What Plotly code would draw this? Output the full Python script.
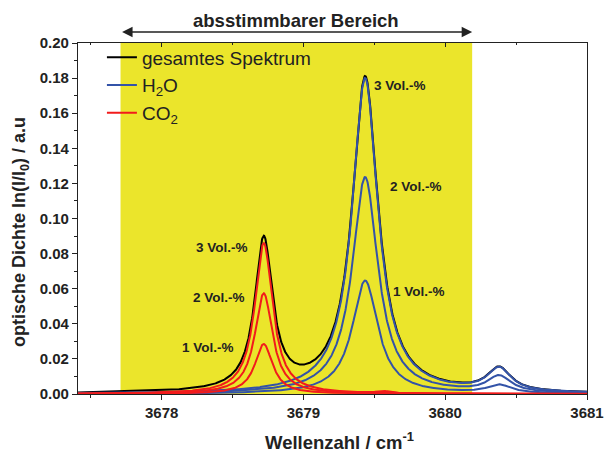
import numpy as np
import plotly.graph_objects as go

# ---- data ----
concentrations = ["1 Vol.-%", "2 Vol.-%", "3 Vol.-%"]
# H2O lines: centre (cm-1), half width (cm-1), peak height for 1/2/3 Vol.-%
h2o_centers = [3679.435, 3680.38]
h2o_hwhm = [0.11, 0.10]
h2o_heights = [[0.0646, 0.1235, 0.180],
               [0.0047, 0.0092, 0.0132]]
# CO2 lines
co2_centers = [3678.72, 3679.56]
co2_hwhm = [0.076, 0.05]
co2_heights = [[0.0285, 0.0574, 0.086],
               [0.0004, 0.0008, 0.0012]]

x_range = [3677.41, 3681.0]
tunable_range = [3677.71, 3680.19]

wn = np.linspace(x_range[0], x_range[1], 1600)


def spectrum(centers, widths, heights, k):
    s = np.zeros_like(wn)
    for c, w, h in zip(centers, widths, heights):
        s += h[k] * w**2 / ((wn - c) ** 2 + w**2)
    return s


h2o = [spectrum(h2o_centers, h2o_hwhm, h2o_heights, k) for k in range(3)]
co2 = [spectrum(co2_centers, co2_hwhm, co2_heights, k) for k in range(3)]
total = h2o[2] + co2[2]

BLUE = "#3353A8"
RED = "#F21B1B"
TXT = "#222222"
FONT = "Liberation Sans, Arial, sans-serif"

fig = go.Figure()
fig.add_trace(go.Scatter(x=wn, y=total, mode="lines", name="gesamtes Spektrum",
                         line=dict(color="black", width=2), legendgroup="a"))
for k in range(3):
    fig.add_trace(go.Scatter(x=wn, y=h2o[k], mode="lines", name="H<sub>2</sub>O",
                             line=dict(color=BLUE, width=2), legendgroup="b",
                             showlegend=(k == 0)))
for k in range(3):
    fig.add_trace(go.Scatter(x=wn, y=co2[k], mode="lines", name="CO<sub>2</sub>",
                             line=dict(color=RED, width=2), legendgroup="c",
                             showlegend=(k == 0)))
# dummy trace for the mirrored top axis
fig.add_trace(go.Scatter(x=[], y=[], xaxis="x2", showlegend=False))

fig.add_shape(type="rect", xref="x", yref="y", x0=tunable_range[0], x1=tunable_range[1],
              y0=0, y1=0.2, fillcolor="#EBE52B", line=dict(width=0), layer="below")

PL, PR, PT, PB = 78, 587, 43, 394


def px2x(px):
    return x_range[0] + (px - PL) / (PR - PL) * (x_range[1] - x_range[0])


def px2y(py):
    return (PB - py) / (PB - PT) * 0.2


label_pos = [(208, 347), (219, 297), (222, 247), (419, 291), (416, 186), (400, 85)]
label_txt = concentrations + concentrations
for (px, py), t in zip(label_pos, label_txt):
    fig.add_annotation(x=px2x(px), y=px2y(py), text="<b>%s</b>" % t, showarrow=False,
                       xanchor="center", yanchor="middle",
                       font=dict(size=13.5, color=TXT, family=FONT))

# double arrow for tunable range
arrow_y = (PB - 32) / (PB - PT)
span_px = (tunable_range[1] - tunable_range[0]) / (x_range[1] - x_range[0]) * (PR - PL)
fig.add_annotation(x=tunable_range[1], y=arrow_y, xref="x", yref="paper", ax=-span_px, ay=0,
                   text="", showarrow=True, arrowside="end+start", arrowhead=2,
                   startarrowhead=2, arrowsize=1.5, startarrowsize=1.5, arrowwidth=1.4,
                   arrowcolor=TXT)
fig.add_annotation(x=(tunable_range[0] + tunable_range[1]) / 2, y=(PB - 20) / (PB - PT),
                   xref="x", yref="paper", xanchor="center", yanchor="middle",
                   text="<b>absstimmbarer Bereich</b>", showarrow=False,
                   font=dict(size=18.5, color=TXT, family=FONT))

# axis titles as free text
fig.add_annotation(x=(20 - PL) / (PR - PL), y=(PB - 232) / (PB - PT), xref="paper", yref="paper",
                   xanchor="center", yanchor="middle",
                   text="<b>optische Dichte ln(I/I<sub>0</sub>) / a.u</b>", textangle=-90,
                   showarrow=False, font=dict(size=18, color=TXT, family=FONT))
fig.add_annotation(x=(339 - PL) / (PR - PL), y=(PB - 441) / (PB - PT), xref="paper", yref="paper",
                   xanchor="center", yanchor="middle",
                   text="<b>Wellenzahl / cm<sup>-1</sup></b>",
                   showarrow=False, font=dict(size=18.5, color=TXT, family=FONT))

axis_common = dict(showline=True, linecolor=TXT, linewidth=1.3, showgrid=False,
                   zeroline=False, ticks="outside", ticklen=5, tickwidth=1.2, tickcolor=TXT,
                   automargin=False)

fig.update_layout(
    width=604, height=453,
    margin=dict(l=PL, r=604 - PR, t=PT, b=453 - PB),
    plot_bgcolor="white", paper_bgcolor="white",
    font=dict(family=FONT, color=TXT),
    showlegend=True,
    legend=dict(x=0.047, y=1.013, xanchor="left", yanchor="top", bgcolor="rgba(0,0,0,0)",
                font=dict(size=19, family=FONT, color=TXT), tracegroupgap=0,
                itemwidth=30),
    xaxis=dict(range=x_range, dtick=1, tick0=3678,
               tickfont=dict(size=15, family=FONT, color=TXT),
               tickprefix="<b>", ticksuffix="</b>",
               minor=dict(dtick=0.5, ticks="outside", ticklen=3, tickcolor=TXT),
               mirror=False, tickformat="d", **axis_common),
    xaxis2=dict(range=x_range, overlaying="x", side="top", showline=True, linecolor=TXT,
                linewidth=1.3, showgrid=False, zeroline=False, ticks="inside", ticklen=4,
                tickcolor=TXT, dtick=1, tick0=3678, showticklabels=False, automargin=False,
                minor=dict(dtick=0.5, ticks="inside", ticklen=2, tickcolor=TXT)),
    yaxis=dict(range=[0, 0.2], dtick=0.02, tickformat=".2f",
               tickfont=dict(size=15, family=FONT, color=TXT),
               tickprefix="<b>", ticksuffix="</b>",
               minor=dict(dtick=0.01, ticks="outside", ticklen=3, tickcolor=TXT),
               mirror=True, **axis_common),
)

fig.write_html("out.html", config={"displayModeBar": False},
               post_script="document.body.style.margin='0px';document.body.style.overflow='hidden';")
